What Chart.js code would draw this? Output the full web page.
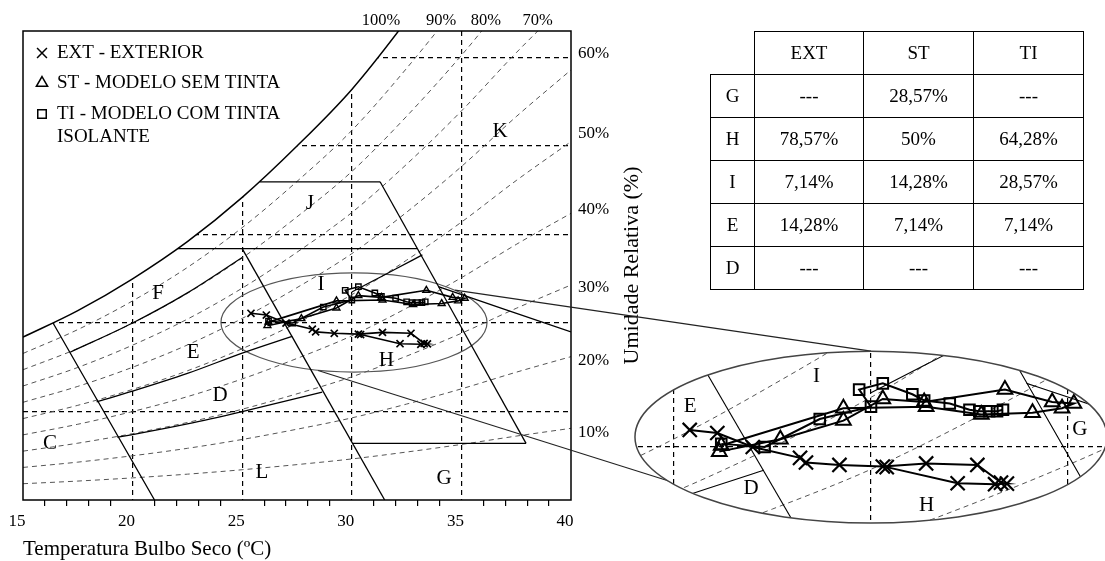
<!DOCTYPE html>
<html>
<head>
<meta charset="utf-8">
<script src="https://cdn.jsdelivr.net/npm/chart.js@4.4.1/dist/chart.umd.min.js"></script>
<style>
  html, body { margin: 0; padding: 0; background: #fff; }
  #wrap { position: relative; width: 1105px; height: 561px; overflow: hidden; }
  #main { position: absolute; left: 0; top: 0; }
  #inset { position: absolute; left: 620px; top: 335px; }
  #tbl { position: absolute; left: 710px; top: 31px; border-collapse: collapse; table-layout: fixed;
         font-family: 'Liberation Serif', 'Times New Roman', serif; font-size: 19px; color: #000; }
  #tbl td { border: 1.5px solid #000; text-align: center; padding: 0; height: 42px; }
  #tbl td.corner { border-top: none; border-left: none; }
</style>
</head>
<body>
<div id="wrap">
  <canvas id="main" width="1105" height="561"></canvas>
  <canvas id="inset" width="485" height="210"></canvas>
  <table id="tbl">
    <colgroup><col style="width:44px"><col style="width:109px"><col style="width:110px"><col style="width:110px"></colgroup>
  </table>
</div>
<script>
const SERIF = "'Liberation Serif', 'Times New Roman', serif";

// readings: dry bulb temperature (ºC) and humidity ratio, 14 per series
const extTemp = [25.4, 26.1, 27.0, 28.2, 28.35, 29.2, 30.3, 31.4, 32.7, 33.3, 33.45, 33.15, 32.2, 30.4];
const extHum  = [10.55, 10.45, 10.0, 9.65, 9.5, 9.42, 9.37, 9.47, 9.42, 8.85, 8.82, 8.8, 8.83, 9.35];
const stTemp  = [26.15, 27.7, 29.3, 30.3, 31.35, 33.4, 34.6, 35.15, 34.85, 34.1, 32.8, 31.4, 29.3, 26.2];
const stHum   = [9.85, 10.25, 10.85, 11.55, 11.45, 11.85, 11.45, 11.4, 11.25, 11.1, 11.05, 11.3, 11.25, 10.05];
const tiTemp  = [26.2, 27.3, 28.7, 30.0, 29.7, 30.3, 31.05, 31.35, 32.0, 32.5, 32.75, 33.0, 33.2, 33.35];
const tiHum   = [10.1, 10.0, 10.9, 11.3, 11.85, 12.05, 11.7, 11.5, 11.4, 11.2, 11.15, 11.15, 11.15, 11.2];
const seriesNames = ['EXT - EXTERIOR', 'ST - MODELO SEM TINTA', 'TI - MODELO COM TINTA', 'ISOLANTE'];

// relative humidity curves (read at these temperatures)
const rhTemp = [15, 17.5, 20, 22.5, 25, 27.5, 30, 32.5, 35, 37.5, 40];
const rh100 = [9.2, 10.7, 12.5, 14.6, 17.1, 20.0, 23.2, 27.1, 31.4, 36.1, 40.5];
const rh90  = [8.28, 9.63, 11.25, 13.14, 15.39, 18.0, 20.88, 24.39, 28.26, 32.49, 36.45];
const rh80  = [7.36, 8.56, 10.0, 11.68, 13.68, 16.0, 18.56, 21.68, 25.12, 28.88, 32.4];
const rh70  = [6.44, 7.49, 8.75, 10.22, 11.97, 14.0, 16.24, 18.97, 21.98, 25.27, 28.35];
const rh60  = [5.52, 6.42, 7.5, 8.76, 10.26, 12.0, 13.92, 16.26, 18.84, 21.66, 24.3];
const rh50  = [4.6, 5.35, 6.25, 7.3, 8.55, 10.0, 11.6, 13.55, 15.7, 18.05, 20.25];
const rh40  = [3.68, 4.28, 5.0, 5.84, 6.84, 8.0, 9.28, 10.84, 12.56, 14.44, 16.2];
const rh30  = [2.76, 3.21, 3.75, 4.38, 5.13, 6.0, 6.96, 8.13, 9.42, 10.83, 12.15];
const rh20  = [1.84, 2.14, 2.5, 2.92, 3.42, 4.0, 4.64, 5.42, 6.28, 7.22, 8.1];
const rh10  = [0.92, 1.07, 1.25, 1.46, 1.71, 2.0, 2.32, 2.71, 3.14, 3.61, 4.05];

// zone boundaries [temps, hums]
const zoneC      = [[16.37, 21.0], [10.0, 0]];
const zoneEF     = [[17.15, 20, 22.5, 25.0], [8.35, 10.0, 11.7, 13.7]];
const zoneDE     = [[18.36, 20, 22.5, 25, 27.28], [5.55, 6.15, 7.15, 8.3, 9.25]];
const zoneDL     = [[19.3, 20, 22.5, 25, 28.65], [3.55, 3.7, 4.3, 5.0, 6.1]];
const zoneSlant  = [[25.0, 31.5], [14.2, 0]];
const zoneJTop   = [[25.8, 31.29], [17.98, 17.98]];
const zoneJBase  = [[22.07, 32.99], [14.2, 14.2]];
const zoneRight  = [[31.29, 37.95], [17.98, 3.2]];
const zoneGBase  = [[30.03, 37.95], [3.2, 3.2]];
const zoneI      = [[30.0, 31.0, 32.0, 33.22], [11.75, 12.4, 13.05, 13.85]];
const zoneK      = [[33.95, 40], [12.05, 9.5]];

const zoneLetters   = ['K', 'J', 'I', 'F', 'E', 'D', 'C', 'L', 'H', 'G'];
const zoneLetterT   = [36.76, 28.09, 28.6, 21.16, 22.76, 23.99, 16.23, 25.9, 31.58, 34.21];
const zoneLetterW   = [20.81, 16.78, 12.15, 11.69, 8.31, 5.93, 3.22, 1.53, 7.91, 1.24];
const insetLetters  = ['E', 'I', 'G', 'D', 'H'];
const insetLetterT  = [25.41, 28.62, 35.3, 26.96, 31.41];
const insetLetterW  = [11.3, 12.27, 10.55, 8.67, 8.13];

const tempTicks     = [15, 16, 17, 18, 19, 20, 21, 22, 23, 24, 25, 26, 27, 28, 29, 30, 31, 32, 33, 34, 35, 36, 37, 38, 39, 40];
const humGrid       = [5, 10, 15, 20, 25];
const topLabels     = ['100%', '90%', '80%', '70%'];
const topLabelT     = [31.33, 34.07, 36.12, 38.48];
const rightLabels   = ['60%', '50%', '40%', '30%', '20%', '10%'];
const rightLabelW   = [25.2, 20.7, 16.4, 12.0, 7.9, 3.8];

const tableCols = ['EXT', 'ST', 'TI'];
const tableRows = ['G', 'H', 'I', 'E', 'D'];
const tableExt  = ['---', '78,57%', '7,14%', '14,28%', '---'];
const tableSt   = ['28,57%', '50%', '14,28%', '7,14%', '---'];
const tableTi   = ['---', '64,28%', '28,57%', '7,14%', '---'];

const zoomEllipse  = { t: 30.1, w: 10.03, dt: 6.07, dw: 2.8 };
const insetEllipse = { t: 30.0, w: 10.32, dt: 5.99, dw: 2.77 };
const connectors = [
    { from: [34.71, 11.86], to: [30.0, 13.09] },
    { from: [28.46, 7.32], to: [25.03, 8.84] }
];

const DASH = [5, 4];
const pts = (tt, ww) => tt.map((t, i) => ({ x: t, y: ww[i] }));

function buildDatasets(big) {
    const sets = [];
    sets.push({
        data: pts(rhTemp, rh100), showLine: true, pointRadius: 0, borderColor: '#000',
        borderWidth: big ? 1.2 : 1.5, cubicInterpolationMode: 'monotone',
        fill: 'end', backgroundColor: '#fff', order: 10
    });
    [rh90, rh80, rh70, rh60, rh50, rh40, rh30, rh20, rh10].forEach(c => {
        sets.push({
            data: pts(rhTemp, c), showLine: true, pointRadius: 0, borderColor: '#555',
            borderWidth: 1, borderDash: DASH, cubicInterpolationMode: 'monotone', order: 6
        });
    });
    [zoneC, zoneEF, zoneDE, zoneDL, zoneSlant, zoneJTop, zoneJBase, zoneRight, zoneGBase, zoneI, zoneK].forEach(z => {
        sets.push({
            data: pts(z[0], z[1]), showLine: true, pointRadius: 0, borderColor: '#000',
            borderWidth: big ? 1.1 : 1.3, cubicInterpolationMode: 'monotone', order: 5
        });
    });
    const series = (tt, ww, style, r, bw) => ({
        data: pts(tt, ww), showLine: true, borderColor: '#000', borderWidth: big ? 2 : 1.6,
        pointStyle: style, pointRadius: r, pointBorderWidth: bw,
        pointBorderColor: '#000', pointBackgroundColor: 'rgba(255,255,255,0)', order: 0
    });
    sets.push(series(tiTemp, tiHum, 'rect', big ? 7.5 : 3.8, big ? 2 : 1.4));
    sets.push(series(stTemp, stHum, 'triangle', big ? 8.5 : 4, big ? 2 : 1.4));
    sets.push(series(extTemp, extHum, 'crossRot', big ? 10 : 5, big ? 2.2 : 1.7));
    return sets;
}

function ellipsePath(ctx, chart, e) {
    const x = chart.scales.x, y = chart.scales.y;
    const cx = x.getPixelForValue(e.t), cy = y.getPixelForValue(e.w);
    const rx = Math.abs(x.getPixelForValue(e.t + e.dt) - cx);
    const ry = Math.abs(y.getPixelForValue(e.w + e.dw) - cy);
    ctx.beginPath();
    ctx.ellipse(cx, cy, rx, ry, 0, 0, Math.PI * 2);
}

const gridAt = (lo, hi) => c => {
    const v = c.tick ? c.tick.value : NaN;
    return (v % 5 === 0 && v > lo && v < hi) ? '#000' : 'rgba(0,0,0,0)';
};

// ---- inset (magnified ellipse) ----
const insetRange = { tMin: 23.63, tMax: 35.94, wMin: 6.84, wMax: 13.61 };

const insetClip = {
    id: 'insetClip',
    beforeDraw(chart) {
        const ctx = chart.ctx;
        ctx.save();
        ellipsePath(ctx, chart, insetEllipse);
        ctx.fillStyle = '#fff';
        ctx.fill();
        ctx.clip();
    },
    afterDraw(chart) {
        const { ctx, scales: { x, y } } = chart;
        ctx.fillStyle = '#000';
        ctx.font = '21px ' + SERIF;
        ctx.textAlign = 'center';
        ctx.textBaseline = 'middle';
        insetLetters.forEach((l, i) => ctx.fillText(l, x.getPixelForValue(insetLetterT[i]), y.getPixelForValue(insetLetterW[i])));
        ctx.restore();
        ctx.save();
        ellipsePath(ctx, chart, insetEllipse);
        ctx.strokeStyle = '#444';
        ctx.lineWidth = 1.5;
        ctx.stroke();
        ctx.restore();
    }
};

const insetCanvas = document.getElementById('inset');
const insetChart = new Chart(insetCanvas, {
    type: 'scatter',
    data: { datasets: buildDatasets(true) },
    options: {
        responsive: false, animation: false, events: [],
        layout: { padding: 0, autoPadding: false },
        plugins: { legend: { display: false }, tooltip: { enabled: false } },
        scales: {
            x: {
                type: 'linear', min: insetRange.tMin, max: insetRange.tMax,
                afterBuildTicks: s => { s.ticks = tempTicks.filter(v => v % 5 === 0).map(v => ({ value: v })); },
                ticks: { display: false },
                grid: { color: gridAt(insetRange.tMin, insetRange.tMax), lineWidth: 1.2, drawTicks: false },
                border: { display: false, dash: DASH },
                afterFit: s => { s.height = 0; }
            },
            y: {
                type: 'linear', min: insetRange.wMin, max: insetRange.wMax,
                afterBuildTicks: s => { s.ticks = humGrid.map(v => ({ value: v })); },
                ticks: { display: false },
                grid: { color: gridAt(insetRange.wMin, insetRange.wMax), lineWidth: 1.2, drawTicks: false },
                border: { display: false, dash: DASH },
                afterFit: s => { s.width = 0; }
            }
        }
    },
    plugins: [insetClip]
});

// ---- main chart ----
const mainDecor = {
    id: 'mainDecor',
    beforeDatasetsDraw(chart) {
        const ctx = chart.ctx;
        ctx.save();
        ellipsePath(ctx, chart, zoomEllipse);
        ctx.strokeStyle = '#555';
        ctx.lineWidth = 1.2;
        ctx.stroke();
        ctx.restore();
    },
    afterDraw(chart) {
        const { ctx, chartArea: a, scales: { x, y } } = chart;
        ctx.save();
        ctx.strokeStyle = '#000';
        ctx.lineWidth = 1.5;
        ctx.strokeRect(a.left, a.top, a.right - a.left, a.bottom - a.top);

        ctx.fillStyle = '#000';
        ctx.textAlign = 'center';
        ctx.textBaseline = 'middle';
        ctx.font = '21px ' + SERIF;
        zoneLetters.forEach((l, i) => ctx.fillText(l, x.getPixelForValue(zoneLetterT[i]), y.getPixelForValue(zoneLetterW[i])));

        // legend
        const lx = a.left + 19, tx = a.left + 34;
        const rows = [a.top + 22, a.top + 52, a.top + 83, a.top + 106];
        const styles = [['crossRot', 7, 2.8], ['triangle', 6.5, 2], ['rect', 6, 2.2]];
        ctx.strokeStyle = '#000';
        styles.forEach((s, i) => {
            ctx.fillStyle = 'rgba(255,255,255,0)';
            Chart.helpers.drawPoint(ctx, { pointStyle: s[0], radius: s[1], borderWidth: s[2], rotation: 0 }, lx, rows[i]);
        });
        ctx.fillStyle = '#000';
        ctx.textAlign = 'left';
        ctx.font = '19px ' + SERIF;
        seriesNames.forEach((n, i) => ctx.fillText(n, tx, rows[i]));

        // right title
        ctx.save();
        ctx.translate(a.right + 61, (a.top + a.bottom) / 2);
        ctx.rotate(-Math.PI / 2);
        ctx.textAlign = 'center';
        ctx.font = '22px ' + SERIF;
        ctx.fillText('Umidade Relativa (%)', 0, 0);
        ctx.restore();

        // lines from the ellipse to its magnified view
        const ix = insetChart.scales.x, iy = insetChart.scales.y;
        ctx.strokeStyle = '#222';
        ctx.lineWidth = 1.1;
        connectors.forEach(c => {
            ctx.beginPath();
            ctx.moveTo(x.getPixelForValue(c.from[0]), y.getPixelForValue(c.from[1]));
            ctx.lineTo(insetCanvas.offsetLeft + ix.getPixelForValue(c.to[0]), insetCanvas.offsetTop + iy.getPixelForValue(c.to[1]));
            ctx.stroke();
        });
        ctx.restore();
    }
};

const mainChart = new Chart(document.getElementById('main'), {
    type: 'scatter',
    data: { datasets: buildDatasets(false) },
    options: {
        responsive: false, animation: false, events: [],
        layout: { padding: { left: 23, right: 494, top: 0, bottom: 0 }, autoPadding: false },
        plugins: { legend: { display: false }, tooltip: { enabled: false } },
        scales: {
            x: {
                type: 'linear', position: 'bottom', min: 15, max: 40,
                afterBuildTicks: s => { s.ticks = tempTicks.map(v => ({ value: v })); },
                ticks: {
                    autoSkip: false, maxRotation: 0, color: '#000', padding: 5, labelOffset: -6,
                    font: { family: SERIF, size: 17 },
                    callback: v => (v % 5 === 0 ? String(v) : '')
                },
                grid: {
                    color: gridAt(15, 40), lineWidth: 1.2, tickLength: 6, tickWidth: 1.2,
                    tickColor: c => (c.tick && c.tick.value % 5 === 0 ? 'rgba(0,0,0,0)' : '#000')
                },
                border: { display: false, dash: DASH },
                title: {
                    display: true, text: 'Temperatura Bulbo Seco (ºC)', align: 'start', color: '#000',
                    font: { family: SERIF, size: 21, lineHeight: 1 }, padding: { top: 0, bottom: 1 }
                },
                afterFit: s => { s.height = 61; }
            },
            x2: {
                type: 'linear', position: 'top', min: 15, max: 40,
                afterBuildTicks: s => { s.ticks = topLabelT.map(v => ({ value: v })); },
                ticks: {
                    autoSkip: false, maxRotation: 0, color: '#000', padding: 0,
                    font: { family: SERIF, size: 16.5 },
                    callback: (v, i) => topLabels[i]
                },
                grid: { display: false, drawTicks: false },
                border: { display: false },
                afterFit: s => { s.height = 31; }
            },
            y: {
                type: 'linear', position: 'left', min: 0, max: 26.5,
                afterBuildTicks: s => { s.ticks = humGrid.map(v => ({ value: v })); },
                ticks: { display: false },
                grid: { color: gridAt(0, 26.5), lineWidth: 1.2, drawTicks: false },
                border: { display: false, dash: DASH },
                afterFit: s => { s.width = 0; }
            },
            y2: {
                type: 'linear', position: 'right', min: 0, max: 26.5,
                afterBuildTicks: s => { s.ticks = rightLabelW.map(v => ({ value: v })); },
                ticks: {
                    autoSkip: false, color: '#000', padding: 7,
                    font: { family: SERIF, size: 17 },
                    callback: (v, i) => rightLabels[i]
                },
                grid: { display: false, drawTicks: false },
                border: { display: false },
                afterFit: s => { s.width = 40; }
            }
        }
    },
    plugins: [mainDecor]
});

// ---- table ----
const tbl = document.getElementById('tbl');
const head = tbl.insertRow();
const corner = head.insertCell();
corner.className = 'corner';
tableCols.forEach(c => { head.insertCell().textContent = c; });
tableRows.forEach((r, i) => {
    const tr = tbl.insertRow();
    tr.insertCell().textContent = r;
    [tableExt, tableSt, tableTi].forEach(col => { tr.insertCell().textContent = col[i]; });
});
</script>
</body>
</html>
